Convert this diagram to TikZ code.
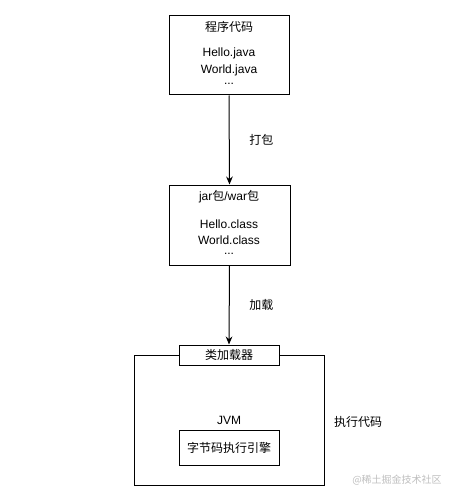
\documentclass[tikz,border=0pt]{standalone}
\usepackage{fontspec}
\setmainfont{Liberation Sans}
\newfontfamily\cjk{Noto Sans CJK SC}
\usetikzlibrary{arrows.meta}
\begin{document}
\begin{tikzpicture}[x=0.75pt,y=-0.75pt,
  box/.style={draw=black,line width=0.75pt,fill=white,inner sep=0pt},
  txt/.style={font=\fontsize{9}{10}\selectfont,inner sep=0pt},
  arr/.style={-{Stealth[length=6pt,width=5pt]},line width=0.75pt}]
\useasboundingbox[fill=white] (0,0) rectangle (453,499);
% box 1
\node[box,minimum width=120*0.75pt,minimum height=79*0.75pt] (b1) at (229,55.5) {};
\node[txt] (b1t) at (229,27) {\cjk 程序代码};
\node[txt] (b1a) at (229,53) {Hello.java};
\node[txt] (b1b) at (229,70) {World.java};
\node[txt] (b1c) at (229,84) {...};
% box 2
\node[box,minimum width=121*0.75pt,minimum height=80*0.75pt] (b2) at (229.5,225) {};
\node[txt] (b2t) at (229,197) {jar{\cjk 包}/war{\cjk 包}};
\node[txt] (b2a) at (229,224) {Hello.class};
\node[txt] (b2b) at (229,240) {World.class};
\node[txt] (b2c) at (229,254) {...};
% JVM
\node[box,minimum width=190*0.75pt,minimum height=130*0.75pt] (jvm) at (229,420) {};
\node[box,minimum width=100*0.75pt,minimum height=20*0.75pt] (cl) at (229,355) {};
\node[txt] (clt) at (229,355) {\cjk 类加载器};
\node[txt] (jvmt) at (229,420) {JVM};
\node[box,minimum width=100*0.75pt,minimum height=35*0.75pt] (eng) at (229,447.5) {};
\node[txt] (engt) at (229,447.5) {\cjk 字节码执行引擎};
\node[txt] (exec) at (358,422) {\cjk 执行代码};
% arrows
\draw[arr] (b1.south) -- (b2.north) node[txt,midway,right=19.5*0.75pt] (l1) {\cjk 打包};
\draw[arr] (b2.south) -- (cl.north) node[txt,midway,right=19.5*0.75pt] (l2) {\cjk 加载};
% watermark
\node[txt,text=black!25,font=\fontsize{7.5}{8}\cjk] (wm) at (397,480) {@稀土掘金技术社区};
\end{tikzpicture}
\end{document}
